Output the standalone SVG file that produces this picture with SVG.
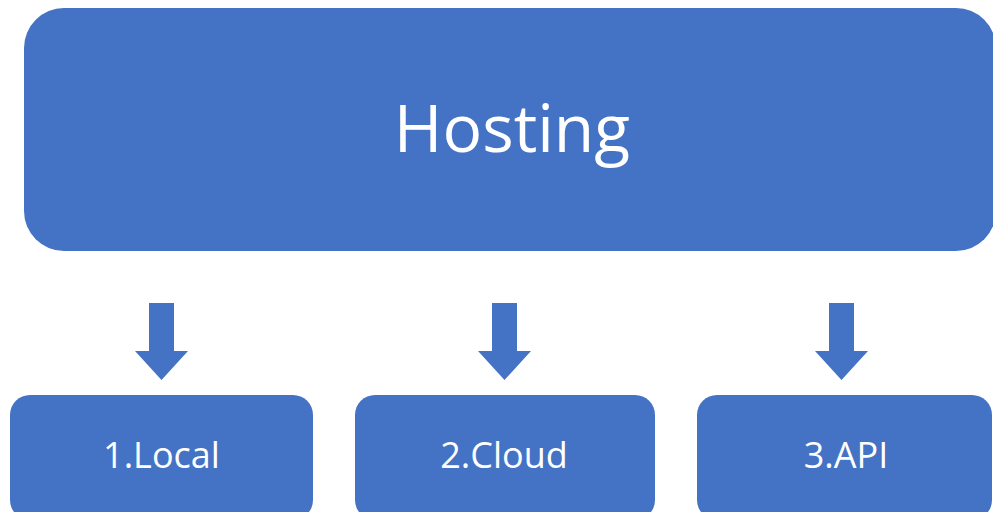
<svg xmlns="http://www.w3.org/2000/svg" width="993" height="512" viewBox="0 0 993 512">
<style>
.box{fill:#4472C4;}
.arr{fill:#4472C4;}
.t{fill:#ffffff;font-family:"Open Sans","Noto Sans",sans-serif;text-anchor:middle;}
</style>
<rect width="993" height="512" fill="#ffffff"/>
<g id="hosting">
<rect class="box" x="24" y="8" width="972" height="243" rx="40" ry="40"/>
<text class="t" x="512" y="152" font-size="66">Hosting</text>
</g>
<g id="connectors">
<polygon class="arr" points="149,303 174,303 174,351 188,351 161.5,380 135,351 149,351"/>
<polygon class="arr" points="492,303 517,303 517,351 531,351 504.5,380 478,351 492,351"/>
<polygon class="arr" points="829,303 854,303 854,351 868,351 841.5,380 815,351 829,351"/>
</g>
<g id="local">
<rect class="box" x="10" y="395" width="303" height="125" rx="20" ry="20"/>
<text class="t" x="161.5" y="468" font-size="36">1.Local</text>
</g>
<g id="cloud">
<rect class="box" x="355" y="395" width="300" height="125" rx="20" ry="20"/>
<text class="t" x="504" y="468" font-size="36">2.Cloud</text>
</g>
<g id="api">
<rect class="box" x="697" y="395" width="295" height="125" rx="20" ry="20"/>
<text class="t" x="846" y="468" font-size="36">3.API</text>
</g>
</svg>
